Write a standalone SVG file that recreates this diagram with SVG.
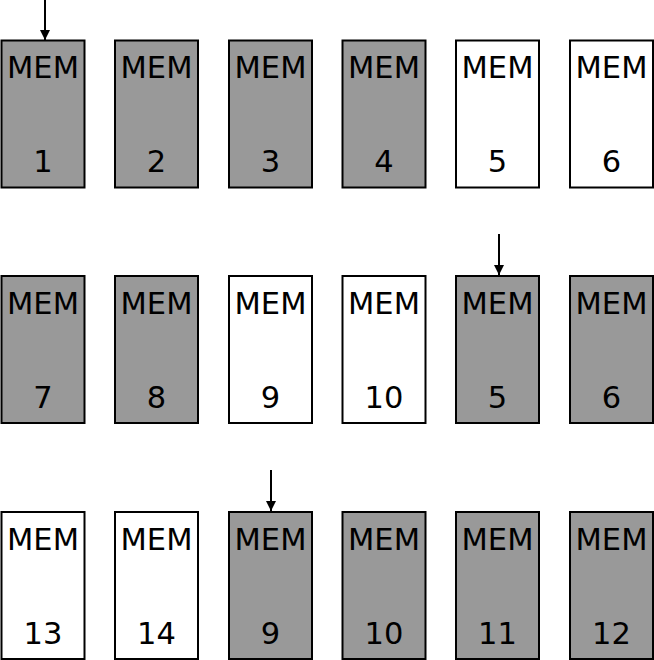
<svg xmlns="http://www.w3.org/2000/svg" width="654" height="660" viewBox="0 0 654 660">
<style>
.b{stroke:#000;stroke-width:2}
.g{fill:#999999}
.w{fill:#ffffff}
text{font-family:"DejaVu Sans",sans-serif;font-size:30.5px;text-anchor:middle;fill:#000}
.c{stroke:#000;stroke-width:2;fill:none}
</style>
<defs>
<marker id="ah" viewBox="0 0 10 10" refX="10" refY="5" markerWidth="10" markerHeight="11" markerUnits="userSpaceOnUse" orient="auto">
<path d="M0,0 L10,5 L0,10 z" fill="#000"/>
</marker>
</defs>
<rect width="654" height="660" fill="#fff"/>
<g id="n1"><rect class="b g" x="1.5" y="40.5" width="83" height="147"/><text x="43" y="78">MEM</text><text x="43" y="172">1</text></g>
<g id="n2"><rect class="b g" x="115" y="40.5" width="83" height="147"/><text x="156.5" y="78">MEM</text><text x="156.5" y="172">2</text></g>
<g id="n3"><rect class="b g" x="229" y="40.5" width="83" height="147"/><text x="270.5" y="78">MEM</text><text x="270.5" y="172">3</text></g>
<g id="n4"><rect class="b g" x="342.5" y="40.5" width="83" height="147"/><text x="384" y="78">MEM</text><text x="384" y="172">4</text></g>
<g id="n5"><rect class="b w" x="456" y="40.5" width="83" height="147"/><text x="497.5" y="78">MEM</text><text x="497.5" y="172">5</text></g>
<g id="n6"><rect class="b w" x="570" y="40.5" width="83" height="147"/><text x="611.5" y="78">MEM</text><text x="611.5" y="172">6</text></g>

<g id="n7"><rect class="b g" x="1.5" y="276" width="83" height="147"/><text x="43" y="313.5">MEM</text><text x="43" y="407.5">7</text></g>
<g id="n8"><rect class="b g" x="115" y="276" width="83" height="147"/><text x="156.5" y="313.5">MEM</text><text x="156.5" y="407.5">8</text></g>
<g id="n9"><rect class="b w" x="229" y="276" width="83" height="147"/><text x="270.5" y="313.5">MEM</text><text x="270.5" y="407.5">9</text></g>
<g id="n10"><rect class="b w" x="342.5" y="276" width="83" height="147"/><text x="384" y="313.5">MEM</text><text x="384" y="407.5">10</text></g>
<g id="n5b"><rect class="b g" x="456" y="276" width="83" height="147"/><text x="497.5" y="313.5">MEM</text><text x="497.5" y="407.5">5</text></g>
<g id="n6b"><rect class="b g" x="570" y="276" width="83" height="147"/><text x="611.5" y="313.5">MEM</text><text x="611.5" y="407.5">6</text></g>

<g id="n13"><rect class="b w" x="1.5" y="512" width="83" height="147"/><text x="43" y="549.5">MEM</text><text x="43" y="643.5">13</text></g>
<g id="n14"><rect class="b w" x="115" y="512" width="83" height="147"/><text x="156.5" y="549.5">MEM</text><text x="156.5" y="643.5">14</text></g>
<g id="n9b"><rect class="b g" x="229" y="512" width="83" height="147"/><text x="270.5" y="549.5">MEM</text><text x="270.5" y="643.5">9</text></g>
<g id="n10b"><rect class="b g" x="342.5" y="512" width="83" height="147"/><text x="384" y="549.5">MEM</text><text x="384" y="643.5">10</text></g>
<g id="n11"><rect class="b g" x="456" y="512" width="83" height="147"/><text x="497.5" y="549.5">MEM</text><text x="497.5" y="643.5">11</text></g>
<g id="n12"><rect class="b g" x="570" y="512" width="83" height="147"/><text x="611.5" y="549.5">MEM</text><text x="611.5" y="643.5">12</text></g>

<g id="connectors">
<line class="c" x1="45" y1="0" x2="45" y2="40" marker-end="url(#ah)"/>
<line class="c" x1="499" y1="234" x2="499" y2="275" marker-end="url(#ah)"/>
<line class="c" x1="271" y1="470" x2="271" y2="511" marker-end="url(#ah)"/>
</g>
</svg>
